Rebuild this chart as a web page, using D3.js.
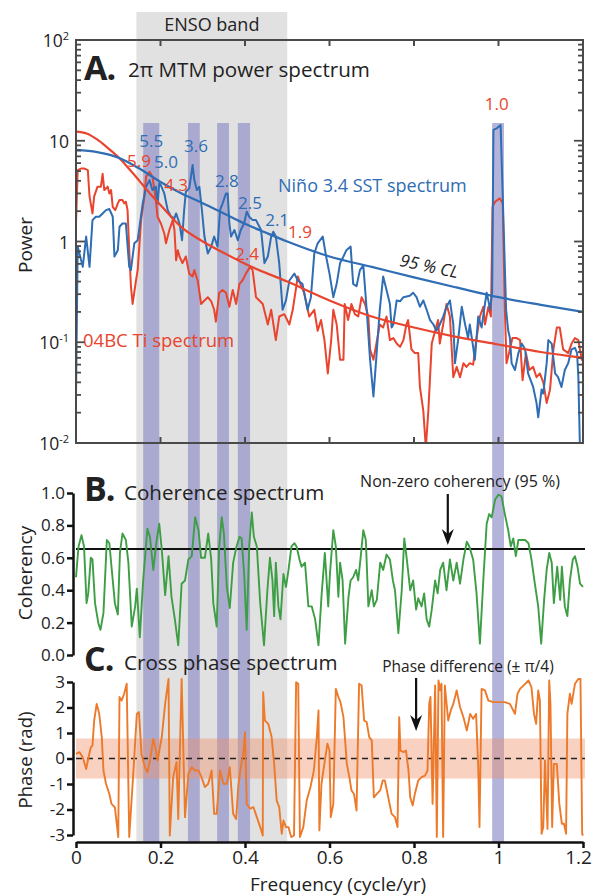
<!DOCTYPE html>
<html>
<head>
<meta charset="utf-8">
<script src="https://cdn.jsdelivr.net/npm/d3@7"></script>
<style>
  body { margin: 0; background: #fff; }
  text { font-family: "Open Sans", sans-serif; fill: #222; }
</style>
</head>
<body>
<svg id="chart" width="595" height="896"></svg>
<script>
// ---- data ----
const ensoBand = [0.143, 0.5];
const peakBands = [[0.159, 0.197], [0.265, 0.293], [0.334, 0.362], [0.383, 0.412], [0.985, 1.013]];
const bandTopPower = 15;

// Niño 3.4 SST power spectrum [freq, power]
const sstSpectrum = [[0,0.03],[0.004,0.89],[0.016,0.56],[0.024,1.12],[0.032,0.56],[0.039,1.63],[0.047,1.76],[0.055,1.76],[0.063,1.9],[0.071,2.05],[0.079,2.1],[0.087,1.76],[0.091,0.71],[0.099,0.82],[0.103,1.4],[0.11,1.51],[0.118,1.51],[0.126,0.56],[0.13,0.52],[0.138,0.96],[0.146,1.03],[0.158,2.39],[0.166,3.5],[0.174,4.07],[0.181,3.24],[0.189,3.5],[0.193,2.39],[0.197,3.78],[0.201,3.6],[0.209,3.0],[0.217,2.05],[0.225,1.76],[0.233,1.7],[0.237,1.9],[0.245,1.51],[0.251,1.03],[0.256,2.05],[0.26,3.12],[0.268,3.37],[0.276,5.74],[0.28,4.07],[0.286,3.24],[0.292,3.5],[0.298,2.05],[0.304,1.12],[0.312,0.76],[0.32,0.89],[0.327,1.12],[0.335,0.89],[0.341,2.05],[0.347,2.39],[0.355,3.0],[0.359,3.0],[0.363,1.51],[0.367,1.12],[0.375,1.3],[0.383,1.03],[0.39,1.3],[0.398,1.51],[0.404,1.98],[0.41,1.76],[0.418,1.63],[0.426,1.63],[0.438,1.3],[0.446,0.61],[0.454,0.71],[0.462,1.12],[0.467,1.25],[0.473,1.12],[0.481,0.61],[0.489,0.21],[0.497,0.26],[0.505,0.41],[0.517,0.48],[0.525,0.41],[0.536,0.38],[0.548,0.21],[0.556,0.28],[0.564,0.76],[0.572,0.96],[0.584,1.12],[0.592,0.71],[0.6,0.48],[0.609,0.28],[0.617,0.38],[0.625,0.61],[0.633,0.71],[0.64,0.82],[0.65,0.89],[0.656,0.38],[0.664,0.36],[0.672,0.52],[0.68,0.58],[0.688,0.21],[0.696,0.067],[0.704,0.029],[0.711,0.072],[0.719,0.21],[0.727,0.45],[0.735,0.33],[0.743,0.24],[0.747,0.14],[0.751,0.15],[0.759,0.26],[0.767,0.255],[0.775,0.28],[0.79,0.29],[0.798,0.31],[0.806,0.28],[0.814,0.225],[0.822,0.26],[0.83,0.21],[0.838,0.166],[0.846,0.15],[0.853,0.13],[0.861,0.15],[0.869,0.18],[0.877,0.225],[0.885,0.26],[0.893,0.15],[0.897,0.062],[0.905,0.11],[0.913,0.225],[0.921,0.15],[0.928,0.11],[0.932,0.15],[0.94,0.09],[0.944,0.067],[0.952,0.18],[0.96,0.14],[0.968,0.24],[0.972,0.31],[0.976,0.26],[0.98,0.21],[0.985,0.31],[0.988,12.8],[0.996,13.3],[1.005,14.3],[1.011,2.05],[1.018,0.21],[1.023,0.13],[1.027,0.11],[1.031,0.062],[1.039,0.053],[1.047,0.078],[1.055,0.097],[1.063,0.085],[1.07,0.049],[1.082,0.036],[1.09,0.025],[1.094,0.018],[1.102,0.034],[1.106,0.031],[1.114,0.062],[1.118,0.105],[1.126,0.097],[1.134,0.049],[1.141,0.045],[1.149,0.036],[1.157,0.053],[1.165,0.062],[1.173,0.085],[1.181,0.088],[1.186,0.078],[1.189,0.045],[1.193,0.008]];

// 04BC Ti power spectrum [freq, power]
const tiSpectrum = [[0,1.5],[0.004,5.1],[0.012,5.3],[0.02,5.3],[0.028,5.1],[0.032,2.8],[0.039,1.9],[0.043,2.8],[0.051,3.5],[0.059,3.5],[0.063,4.7],[0.067,3.24],[0.075,3.5],[0.079,3.0],[0.083,3.24],[0.087,2.2],[0.093,2.05],[0.099,2.39],[0.103,2.58],[0.11,2.58],[0.114,2.39],[0.118,2.48],[0.122,2.05],[0.126,0.82],[0.13,0.36],[0.134,0.24],[0.142,0.41],[0.146,0.52],[0.154,1.63],[0.162,2.8],[0.166,4.4],[0.174,4.93],[0.181,4.4],[0.189,2.58],[0.193,1.76],[0.201,1.51],[0.209,1.2],[0.213,0.96],[0.221,1.3],[0.229,1.63],[0.233,1.3],[0.237,0.65],[0.241,0.82],[0.245,0.71],[0.252,0.61],[0.26,0.71],[0.268,0.48],[0.276,0.45],[0.28,0.52],[0.288,0.41],[0.296,0.24],[0.304,0.26],[0.312,0.28],[0.32,0.255],[0.327,0.21],[0.331,0.16],[0.339,0.31],[0.347,0.33],[0.355,0.31],[0.363,0.225],[0.371,0.33],[0.379,0.24],[0.387,0.38],[0.394,0.41],[0.402,0.48],[0.412,0.56],[0.418,0.52],[0.426,0.28],[0.434,0.26],[0.442,0.24],[0.454,0.15],[0.462,0.21],[0.473,0.105],[0.481,0.18],[0.493,0.19],[0.505,0.15],[0.513,0.21],[0.525,0.45],[0.533,0.36],[0.54,0.31],[0.552,0.18],[0.564,0.21],[0.572,0.13],[0.58,0.166],[0.588,0.105],[0.596,0.049],[0.604,0.105],[0.609,0.21],[0.617,0.15],[0.625,0.067],[0.633,0.067],[0.636,0.24],[0.644,0.166],[0.652,0.24],[0.66,0.19],[0.668,0.18],[0.676,0.28],[0.684,0.24],[0.692,0.18],[0.696,0.085],[0.704,0.067],[0.711,0.097],[0.719,0.15],[0.727,0.14],[0.735,0.18],[0.743,0.105],[0.751,0.11],[0.759,0.097],[0.767,0.09],[0.775,0.105],[0.782,0.15],[0.786,0.166],[0.794,0.085],[0.802,0.078],[0.81,0.078],[0.814,0.036],[0.822,0.021],[0.828,0.009],[0.834,0.021],[0.842,0.097],[0.85,0.13],[0.857,0.166],[0.861,0.097],[0.869,0.15],[0.877,0.24],[0.885,0.18],[0.893,0.045],[0.901,0.057],[0.909,0.045],[0.917,0.062],[0.924,0.057],[0.932,0.062],[0.94,0.06],[0.948,0.11],[0.956,0.18],[0.964,0.225],[0.968,0.15],[0.976,0.225],[0.982,0.18],[0.986,2.22],[0.992,2.48],[1.003,2.68],[1.01,2.39],[1.015,0.21],[1.019,0.062],[1.027,0.085],[1.033,0.11],[1.043,0.11],[1.051,0.105],[1.057,0.042],[1.065,0.078],[1.073,0.053],[1.082,0.057],[1.09,0.045],[1.098,0.049],[1.106,0.04],[1.114,0.025],[1.122,0.034],[1.13,0.085],[1.138,0.14],[1.145,0.14],[1.153,0.085],[1.165,0.078],[1.173,0.097],[1.181,0.11],[1.189,0.105],[1.197,0.067],[1.2,0.078]];

// 95 % confidence levels [freq, power]
const sstCL = [[0,8.1],[0.05,7.7],[0.1,6.8],[0.15,5.3],[0.2,3.9],[0.25,3.0],[0.3,2.4],[0.35,1.9],[0.4,1.5],[0.45,1.22],[0.5,1.0],[0.6,0.71],[0.7,0.56],[0.8,0.44],[0.9,0.35],[1.0,0.28],[1.1,0.235],[1.2,0.2]];
const tiCL = [[0,12.3],[0.025,11.8],[0.05,10.3],[0.075,8.5],[0.1,6.9],[0.125,5.3],[0.15,4.0],[0.175,3.0],[0.2,2.3],[0.25,1.38],[0.3,1.0],[0.35,0.77],[0.4,0.6],[0.5,0.4],[0.6,0.26],[0.7,0.18],[0.8,0.14],[0.9,0.113],[1.0,0.095],[1.1,0.08],[1.2,0.07]];

// peak period labels (years) [text, freq, power, series]
const peakLabels = [["5.5",0.178,8.7,"sst"],["3.6",0.284,7.7,"sst"],["5.9",0.149,5.5,"ti"],["5.0",0.213,5.4,"sst"],["4.3",0.237,3.2,"ti"],["2.8",0.357,3.5,"sst"],["2.5",0.412,2.1,"sst"],["2.1",0.476,1.43,"sst"],["1.9",0.53,1.08,"ti"],["2.4",0.405,0.65,"ti"],["1.0",0.996,20,"ti"]];

// coherence spectrum [freq, coherency]
const coherence = [[0,0.48],[0.006,0.67],[0.013,0.74],[0.019,0.67],[0.025,0.32],[0.029,0.38],[0.035,0.6],[0.039,0.59],[0.045,0.32],[0.053,0.195],[0.058,0.155],[0.065,0.26],[0.073,0.71],[0.079,0.69],[0.084,0.545],[0.092,0.32],[0.099,0.25],[0.104,0.63],[0.11,0.75],[0.118,0.71],[0.124,0.57],[0.132,0.175],[0.14,0.3],[0.144,0.41],[0.151,0.11],[0.159,0.46],[0.169,0.78],[0.175,0.73],[0.183,0.525],[0.191,0.71],[0.197,0.81],[0.203,0.65],[0.211,0.37],[0.219,0.61],[0.226,0.36],[0.234,0.22],[0.242,0.06],[0.25,0.44],[0.258,0.46],[0.266,0.59],[0.274,0.61],[0.282,0.85],[0.29,0.77],[0.296,0.6],[0.305,0.6],[0.313,0.75],[0.32,0.59],[0.325,0.32],[0.333,0.175],[0.339,0.67],[0.345,0.85],[0.35,0.75],[0.357,0.42],[0.364,0.29],[0.372,0.57],[0.38,0.67],[0.387,0.73],[0.392,0.72],[0.398,0.5],[0.404,0.155],[0.41,0.67],[0.416,0.88],[0.421,0.73],[0.428,0.67],[0.436,0.32],[0.445,0.06],[0.453,0.4],[0.459,0.6],[0.465,0.46],[0.469,0.24],[0.473,0.57],[0.479,0.3],[0.484,0.22],[0.491,0.5],[0.497,0.42],[0.503,0.525],[0.51,0.67],[0.517,0.69],[0.522,0.67],[0.529,0.59],[0.534,0.545],[0.542,0.57],[0.55,0.3],[0.558,0.3],[0.566,0.22],[0.574,0.06],[0.581,0.36],[0.589,0.63],[0.597,0.3],[0.601,0.5],[0.609,0.77],[0.615,0.67],[0.621,0.36],[0.625,0.57],[0.631,0.46],[0.637,0.07],[0.645,0.36],[0.65,0.46],[0.656,0.48],[0.663,0.525],[0.668,0.46],[0.674,0.61],[0.68,0.77],[0.686,0.71],[0.692,0.3],[0.7,0.4],[0.705,0.3],[0.712,0.34],[0.72,0.57],[0.727,0.525],[0.735,0.62],[0.743,0.59],[0.75,0.46],[0.755,0.4],[0.763,0.135],[0.771,0.4],[0.777,0.72],[0.783,0.59],[0.791,0.4],[0.798,0.46],[0.805,0.28],[0.81,0.35],[0.818,0.3],[0.824,0.38],[0.83,0.22],[0.836,0.175],[0.842,0.28],[0.85,0.46],[0.856,0.38],[0.862,0.525],[0.869,0.57],[0.877,0.4],[0.885,0.59],[0.893,0.46],[0.901,0.57],[0.909,0.44],[0.917,0.59],[0.925,0.7],[0.931,0.67],[0.94,0.59],[0.948,0.38],[0.956,0.07],[0.964,0.46],[0.972,0.81],[0.978,0.87],[0.984,0.85],[0.992,0.96],[1.0,0.99],[1.007,0.98],[1.015,0.87],[1.023,0.77],[1.029,0.67],[1.035,0.72],[1.041,0.61],[1.047,0.71],[1.055,0.71],[1.063,0.71],[1.071,0.69],[1.078,0.59],[1.086,0.44],[1.094,0.3],[1.101,0.07],[1.108,0.34],[1.114,0.525],[1.12,0.63],[1.126,0.57],[1.131,0.32],[1.136,0.46],[1.139,0.545],[1.146,0.34],[1.15,0.545],[1.157,0.3],[1.163,0.24],[1.169,0.46],[1.176,0.59],[1.181,0.61],[1.187,0.545],[1.193,0.44],[1.2,0.42]];
const coherenceLevel = 0.655;

// cross phase spectrum [freq, phase in rad]
const phase = [[0,0.18],[0.008,0.25],[0.016,0.05],[0.024,-0.41],[0.029,-0.01],[0.035,0.44],[0.039,0.51],[0.043,1.49],[0.049,2.14],[0.055,1.75],[0.061,0.84],[0.065,-0.47],[0.071,-0.99],[0.079,-1.39],[0.084,-1.78],[0.092,-1.91],[0.1,-3.08],[0.103,2.41],[0.108,2.27],[0.114,2.54],[0.12,2.93],[0.126,-3.08],[0.136,-0.47],[0.144,1.75],[0.149,1.82],[0.155,0.18],[0.163,-0.34],[0.169,-0.54],[0.175,-0.08],[0.183,0.77],[0.189,0.31],[0.193,-0.08],[0.203,0.84],[0.211,2.14],[0.219,3.12],[0.222,-3.02],[0.23,-0.73],[0.238,-0.14],[0.242,-2.37],[0.25,3.12],[0.258,-2.3],[0.266,-0.6],[0.274,-0.34],[0.282,-0.47],[0.29,-0.47],[0.297,-0.73],[0.305,-1.12],[0.313,-0.99],[0.321,-0.47],[0.327,-2.17],[0.333,-2.17],[0.341,-0.47],[0.349,-0.99],[0.357,-0.99],[0.364,-0.34],[0.372,-2.17],[0.379,-2.37],[0.384,-1.12],[0.39,-0.34],[0.396,0.18],[0.4,1.03],[0.404,-1.78],[0.412,-1.97],[0.42,-1.91],[0.428,-2.3],[0.436,-2.69],[0.442,-3.02],[0.443,2.6],[0.447,1.49],[0.455,1.36],[0.463,0.84],[0.469,-0.21],[0.475,-1.65],[0.481,-1.91],[0.487,-2.95],[0.491,-2.43],[0.497,-2.69],[0.503,-2.69],[0.507,-2.95],[0.51,-3.08],[0.516,-3.02],[0.521,2.99],[0.526,2.93],[0.53,-3.08],[0.538,-2.69],[0.546,-1.65],[0.555,-1.12],[0.563,-0.47],[0.57,0.84],[0.574,1.88],[0.576,-2.82],[0.581,-0.99],[0.589,-0.08],[0.595,0.58],[0.6,0.31],[0.603,-2.3],[0.609,-1.78],[0.615,2.73],[0.621,2.41],[0.626,2.21],[0.633,1.62],[0.641,-0.21],[0.647,-0.73],[0.652,-1.25],[0.658,-1.39],[0.664,-2.04],[0.67,2.93],[0.676,2.86],[0.682,1.49],[0.688,1.43],[0.694,0.84],[0.7,0.71],[0.705,-1.52],[0.712,-1.39],[0.72,-1.25],[0.726,-0.86],[0.731,-0.86],[0.739,-1.52],[0.747,-2.17],[0.755,-2.3],[0.761,-2.69],[0.765,1.62],[0.768,0.31],[0.775,0.25],[0.781,0.31],[0.787,-0.47],[0.791,-1.52],[0.797,-1.84],[0.802,-1.39],[0.81,-0.86],[0.818,-0.73],[0.826,-0.67],[0.832,-0.47],[0.836,2.14],[0.839,2.41],[0.844,-1.78],[0.85,2.86],[0.854,-3.08],[0.858,3.06],[0.862,2.67],[0.865,2.93],[0.869,-3.08],[0.873,2.86],[0.881,1.49],[0.887,1.88],[0.893,2.14],[0.901,2.67],[0.909,2.01],[0.917,1.62],[0.925,1.1],[0.933,1.75],[0.94,1.56],[0.947,1.75],[0.952,-0.34],[0.955,-2.69],[0.96,2.73],[0.968,2.67],[0.976,2.27],[0.988,2.21],[1.004,2.21],[1.015,2.21],[1.027,2.14],[1.039,1.75],[1.045,2.54],[1.051,2.73],[1.059,2.86],[1.071,3.06],[1.078,2.8],[1.084,1.75],[1.089,1.36],[1.094,2.67],[1.098,2.27],[1.102,-2.95],[1.106,-2.69],[1.11,-0.08],[1.116,-2.76],[1.12,3.06],[1.123,2.14],[1.127,-2.69],[1.131,-0.21],[1.138,-0.21],[1.144,-1.78],[1.15,-2.56],[1.155,-2.56],[1.16,-2.95],[1.163,1.75],[1.169,2.54],[1.173,2.14],[1.181,2.93],[1.189,3.12],[1.194,3.12],[1.198,-2.95],[1.2,-3.02]];
const phaseTolerance = Math.PI / 4;

const freqTicks = [0, 0.2, 0.4, 0.6, 0.8, 1, 1.2];
const cohTicks = [0, 0.2, 0.4, 0.6, 0.8, 1.0];
const phaseTicks = [-3, -2, -1, 0, 1, 2, 3];
const powerDecades = [0.01, 0.1, 1, 10, 100];

// ---- colours ----
const sstColor = "#2f6db4", tiColor = "#e8442e", cohColor = "#3e9e45", phaseColor = "#ec7a2a";

const svg = d3.select("#chart");

const x = d3.scaleLinear().domain([0, 1.2]).range([76, 583]);
const yA = d3.scaleLog().domain([0.01, 100]).range([443, 40]);
const yB = d3.scaleLinear().domain([0, 1]).range([655, 493]);
const yC = d3.scaleLinear().domain([-3, 3]).range([835, 682]);
const axisBottomY = 842;

// background bands
svg.append("rect")
  .attr("x", x(ensoBand[0])).attr("y", 12)
  .attr("width", x(ensoBand[1]) - x(ensoBand[0]))
  .attr("height", axisBottomY - 12)
  .attr("fill", "#e1e1e1");

svg.append("text").attr("x", (x(ensoBand[0]) + x(ensoBand[1])) / 2).attr("y", 31)
  .attr("text-anchor", "middle").attr("font-size", 18).text("ENSO band");

svg.selectAll("rect.peak").data(peakBands).enter().append("rect")
  .attr("class", "peak")
  .attr("x", d => x(d[0])).attr("y", yA(bandTopPower))
  .attr("width", d => x(d[1]) - x(d[0]))
  .attr("height", d => axisBottomY - yA(bandTopPower))
  .attr("fill", "#9090c8").attr("opacity", 0.68);

// ---------- panel A ----------
svg.append("defs").append("clipPath").attr("id", "clipA")
  .append("rect").attr("x", 76).attr("y", 40).attr("width", 507).attr("height", 403);

const lineA = d3.line().x(d => x(d[0])).y(d => yA(Math.max(d[1], 0.005)));
const smoothA = d3.line().x(d => x(d[0])).y(d => yA(d[1])).curve(d3.curveMonotoneX);

const gA = svg.append("g").attr("clip-path", "url(#clipA)");
gA.append("path").datum(tiSpectrum).attr("d", lineA)
  .attr("fill", "none").attr("stroke", tiColor).attr("stroke-width", 2).attr("stroke-linejoin", "round");
gA.append("path").datum(sstSpectrum).attr("d", lineA)
  .attr("fill", "none").attr("stroke", sstColor).attr("stroke-width", 2).attr("stroke-linejoin", "round");
gA.append("path").datum(tiCL).attr("d", smoothA)
  .attr("fill", "none").attr("stroke", tiColor).attr("stroke-width", 2.2);
gA.append("path").datum(sstCL).attr("d", smoothA)
  .attr("fill", "none").attr("stroke", sstColor).attr("stroke-width", 2.2);

// frame
svg.append("rect").attr("x", 76).attr("y", 40).attr("width", 507).attr("height", 403)
  .attr("fill", "none").attr("stroke", "#4a4a4a").attr("stroke-width", 2);

// log ticks, inward on both sides
const powerTicks = yA.ticks();
[76, 583].forEach((xx, i) => {
  const dir = i === 0 ? 1 : -1;
  svg.selectAll(null).data(powerTicks).enter().append("line")
    .attr("x1", xx).attr("x2", d => xx + dir * (powerDecades.includes(d) ? 9 : 5))
    .attr("y1", d => yA(d)).attr("y2", d => yA(d))
    .attr("stroke", "#4a4a4a").attr("stroke-width", 1.8);
});
[40, 443].forEach((yy, i) => {
  const dir = i === 0 ? 1 : -1;
  svg.selectAll(null).data(freqTicks.slice(1, -1)).enter().append("line")
    .attr("x1", d => x(d)).attr("x2", d => x(d))
    .attr("y1", yy).attr("y2", yy + dir * 6)
    .attr("stroke", "#4a4a4a").attr("stroke-width", 2);
});

const expLabel = { 0.01: ["10", "-2"], 0.1: ["10", "-1"], 1: ["1", ""], 10: ["10", ""], 100: ["10", "2"] };
powerDecades.forEach(d => {
  const t = svg.append("text").attr("x", 69).attr("y", yA(d) + 7)
    .attr("text-anchor", "end").attr("font-size", 17.5);
  const [base, ex] = expLabel[d];
  t.append("tspan").text(base);
  if (ex) t.append("tspan").attr("dy", -7).attr("font-size", 11).text(ex);
});

svg.append("text").attr("transform", "translate(32,245) rotate(-90)")
  .attr("text-anchor", "middle").attr("font-size", 19).text("Power");

svg.append("text").attr("x", 84).attr("y", 80).attr("font-size", 34).attr("font-weight", "bold")
  .attr("letter-spacing", -1).text("A.");
svg.append("text").attr("x", 128).attr("y", 77).attr("font-size", 20.6).text("2π MTM power spectrum");

svg.selectAll("text.peak").data(peakLabels).enter().append("text")
  .attr("class", "peak")
  .attr("x", d => x(d[1])).attr("y", d => yA(d[2]))
  .attr("text-anchor", "middle").attr("font-size", 17)
  .style("fill", d => d[3] === "sst" ? sstColor : tiColor)
  .text(d => d[0]);

svg.append("text").attr("x", 278).attr("y", 192).attr("font-size", 18)
  .style("fill", sstColor).text("Niño 3.4 SST spectrum");
svg.append("text").attr("x", 83).attr("y", 347).attr("font-size", 18.5)
  .style("fill", tiColor).text("04BC Ti spectrum");
svg.append("text").attr("transform", "translate(428,272) rotate(12)")
  .attr("text-anchor", "middle").attr("font-size", 17).attr("font-style", "italic")
  .text("95 % CL");

// ---------- panel B ----------
svg.append("line").attr("x1", x(0)).attr("x2", 585)
  .attr("y1", yB(coherenceLevel)).attr("y2", yB(coherenceLevel))
  .attr("stroke", "#111").attr("stroke-width", 2);

svg.append("path").datum(coherence)
  .attr("d", d3.line().x(d => x(d[0])).y(d => yB(d[1])))
  .attr("fill", "none").attr("stroke", cohColor).attr("stroke-width", 1.9).attr("stroke-linejoin", "round");

const axB = svg.append("g").attr("transform", "translate(73,0)")
  .call(d3.axisLeft(yB).tickValues(cohTicks).tickFormat(d3.format(".1f")).tickSize(6).tickSizeOuter(0));
axB.select(".domain").attr("stroke", "#111").attr("stroke-width", 2.5);
axB.selectAll(".tick line").attr("stroke", "#111").attr("stroke-width", 2.5);
axB.selectAll(".tick text").attr("font-size", 17).attr("font-family", "Open Sans").attr("fill", "#222").attr("x", -8);

svg.append("text").attr("transform", "translate(32,573) rotate(-90)")
  .attr("text-anchor", "middle").attr("font-size", 19).text("Coherency");

svg.append("text").attr("x", 84).attr("y", 501).attr("font-size", 34).attr("font-weight", "bold")
  .attr("letter-spacing", -1).text("B.");
svg.append("text").attr("x", 124).attr("y", 500).attr("font-size", 20.6).text("Coherence spectrum");

svg.append("text").attr("x", 460).attr("y", 487).attr("text-anchor", "middle").attr("font-size", 16)
  .text("Non-zero coherency (95 %)");

function arrow(ax, y1, y2) {
  svg.append("line").attr("x1", ax).attr("x2", ax).attr("y1", y1).attr("y2", y2 - 8)
    .attr("stroke", "#111").attr("stroke-width", 2.2);
  svg.append("path")
    .attr("d", `M${ax - 6},${y2 - 16} L${ax},${y2} L${ax + 6},${y2 - 16} L${ax},${y2 - 11} Z`)
    .attr("fill", "#111");
}
arrow(x(0.88), 494, yB(coherenceLevel) - 4);

// ---------- panel C ----------
svg.append("rect").attr("x", x(0)).attr("width", 585 - x(0))
  .attr("y", yC(phaseTolerance)).attr("height", yC(-phaseTolerance) - yC(phaseTolerance))
  .attr("fill", "#f08c64").attr("opacity", 0.4);

svg.append("line").attr("x1", x(0)).attr("x2", 585).attr("y1", yC(0)).attr("y2", yC(0))
  .attr("stroke", "#222").attr("stroke-width", 1.6).attr("stroke-dasharray", "6,5");

svg.append("path").datum(phase)
  .attr("d", d3.line().x(d => x(d[0])).y(d => yC(d[1])))
  .attr("fill", "none").attr("stroke", phaseColor).attr("stroke-width", 1.9).attr("stroke-linejoin", "round");

const axC = svg.append("g").attr("transform", "translate(73,0)")
  .call(d3.axisLeft(yC).tickValues(phaseTicks).tickSize(6).tickSizeOuter(0));
axC.select(".domain").attr("stroke", "#111").attr("stroke-width", 2.5);
axC.selectAll(".tick line").attr("stroke", "#111").attr("stroke-width", 2.5);
axC.selectAll(".tick text").attr("font-size", 17).attr("font-family", "Open Sans").attr("fill", "#222").attr("x", -8)
  .text(d => d < 0 ? "-" + Math.abs(d) : d);

const axX = svg.append("g").attr("transform", `translate(0,${axisBottomY})`)
  .call(d3.axisBottom(x).tickValues(freqTicks).tickFormat(d => d).tickSize(6).tickSizeOuter(0));
axX.select(".domain").attr("stroke", "#111").attr("stroke-width", 2.5);
axX.selectAll(".tick line").attr("stroke", "#111").attr("stroke-width", 2.5);
axX.selectAll(".tick text").attr("font-size", 19).attr("font-family", "Open Sans").attr("fill", "#222").attr("y", 9)
  .attr("dx", d => d === 1.2 ? -5 : 0);

svg.append("text").attr("x", 338).attr("y", 891).attr("text-anchor", "middle").attr("font-size", 19)
  .text("Frequency (cycle/yr)");

svg.append("text").attr("transform", "translate(32,760) rotate(-90)")
  .attr("text-anchor", "middle").attr("font-size", 18.5).text("Phase (rad)");

svg.append("text").attr("x", 84).attr("y", 671).attr("font-size", 34).attr("font-weight", "bold")
  .attr("letter-spacing", -1).text("C.");
svg.append("text").attr("x", 124).attr("y", 670).attr("font-size", 20.6).text("Cross phase spectrum");

svg.append("text").attr("x", 468).attr("y", 672).attr("text-anchor", "middle").attr("font-size", 15.5)
  .text("Phase difference (± π/4)");
arrow(x(0.805), 678, 731);
</script>
</body>
</html>
